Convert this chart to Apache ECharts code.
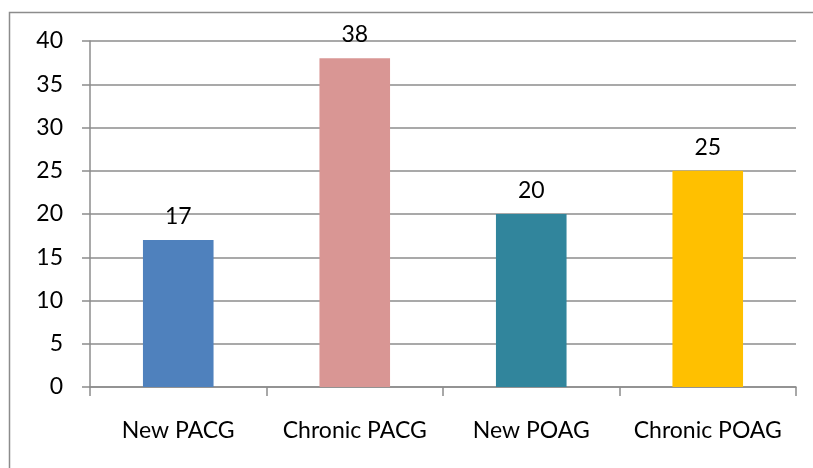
<!DOCTYPE html>
<html><head><meta charset="utf-8">
<script src="https://cdn.jsdelivr.net/npm/echarts@6/dist/echarts.min.js"></script>
<style>html,body{margin:0;padding:0;background:#fff}#c{width:813px;height:468px}</style>
</head><body><div id="c"></div>
<script>
const categories = ["New PACG", "Chronic PACG", "New POAG", "Chronic POAG"];
const values = [17, 38, 20, 25];
const colors = ["#4F81BD", "#D99694", "#31859C", "#FFC000"];
const yTicks = [0, 5, 10, 15, 20, 25, 30, 35, 40];

const chart = echarts.init(document.getElementById('c'), null, {renderer: 'canvas'});
const font = 'Lato, "Open Sans", sans-serif';
chart.setOption({
  animation: false,
  graphic: [{
    type: 'rect', shape: {x: 9.5, y: 12.5, width: 820, height: 470},
    style: {fill: 'none', stroke: '#8c8c8c', lineWidth: 1.5}, silent: true
  }],
  grid: {left: 90, right: 17, top: 41, bottom: 81, containLabel: false},
  xAxis: {
    type: 'category', data: categories,
    axisLine: {show: true, lineStyle: {color: '#8c8c8c', width: 1.5}},
    axisTick: {show: true, interval: 0, alignWithLabel: false, length: 9, lineStyle: {color: '#8c8c8c', width: 1.5}},
    axisLabel: {color: '#000', fontFamily: font, fontSize: 23, margin: 32, interval: 0, hideOverlap: false},
    splitLine: {show: false}
  },
  yAxis: {
    type: 'value', min: 0, max: 40, interval: 5,
    axisLine: {show: true, lineStyle: {color: '#8c8c8c', width: 1.5}},
    axisTick: {show: true, length: 8, lineStyle: {color: '#8c8c8c', width: 1.5}},
    axisLabel: {color: '#000', fontFamily: font, fontSize: 23, margin: 27,
      formatter: v => yTicks.includes(v) ? String(v) : ''},
    splitLine: {show: true, lineStyle: {color: '#8c8c8c', width: 1.5}}
  },
  series: [{
    type: 'bar', barWidth: '40%',
    data: values.map((v, i) => ({value: v, itemStyle: {color: colors[i]}})),
    label: {show: true, position: 'top', distance: 12, color: '#000', fontFamily: font, fontSize: 23}
  }]
});
</script></body></html>
